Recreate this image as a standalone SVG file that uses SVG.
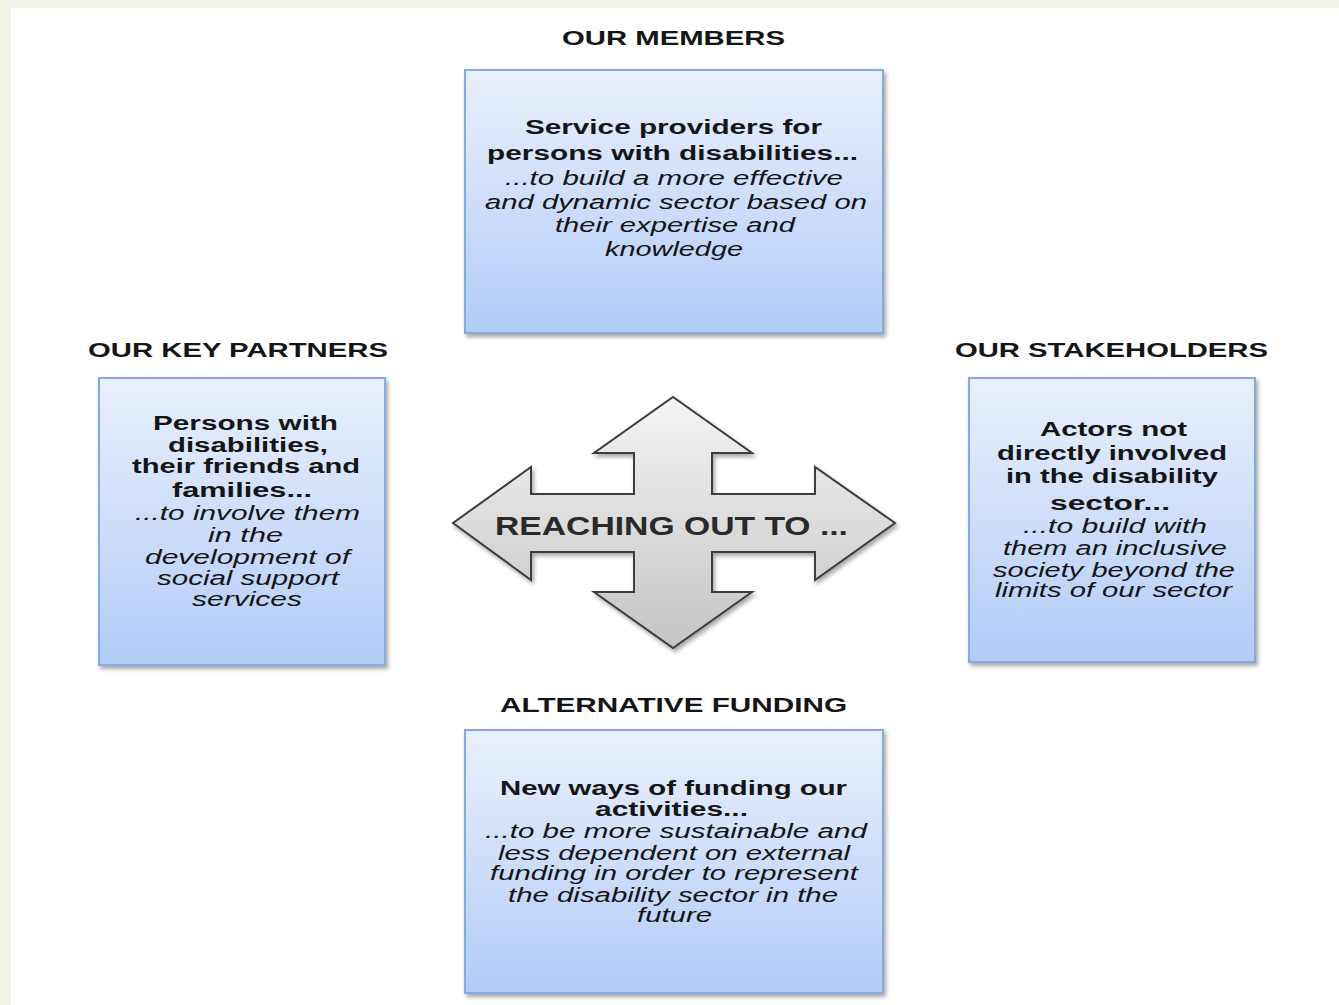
<svg xmlns="http://www.w3.org/2000/svg" width="1339" height="1005" viewBox="0 0 1339 1005">
  <defs>
    <linearGradient id="boxFill" x1="0" y1="0" x2="0" y2="1">
      <stop offset="0" stop-color="#e9f0fd"/>
      <stop offset="1" stop-color="#b2ccf7"/>
    </linearGradient>
    <linearGradient id="arrowFill" x1="0" y1="0" x2="0" y2="1">
      <stop offset="0" stop-color="#f4f4f4"/>
      <stop offset="1" stop-color="#c4c4c4"/>
    </linearGradient>
    <filter id="shadow" x="-10%" y="-10%" width="125%" height="125%">
      <feDropShadow dx="2" dy="3" stdDeviation="2" flood-color="#000" flood-opacity="0.35"/>
    </filter>
    <style>
      text { font-family: "Liberation Sans", Arial, sans-serif; fill: #151515; }
      .head { font-size: 21px; font-weight: bold; }
      .b { font-size: 20px; font-weight: bold; }
      .i { font-size: 20px; font-style: italic; }
      .box { fill: url(#boxFill); stroke: #86aadb; stroke-width: 2; filter: url(#shadow); }
      .hub { fill: url(#arrowFill); stroke: #3c3c3c; stroke-width: 2; stroke-linejoin: miter; filter: url(#shadow); }
      .hubtext { font-size: 25px; font-weight: bold; fill: #2a2a2a; }
    </style>
  </defs>

  <!-- page background with tinted margin -->
  <rect x="0" y="0" width="1339" height="1005" fill="#eef3e3"/>
  <rect x="11" y="8" width="1328" height="997" fill="#ffffff"/>

  <!-- central four-way arrow -->
  <g id="hub">
    <polygon class="hub" points="673,397 752,453 712,453 712,494 815,494 815,467 895,523 815,580 815,552 712,552 712,592 752,592 673,648 594,592 634,592 634,552 531,552 531,580 453,523 531,467 531,494 634,494 634,453 594,453"/>
    <text class="hubtext" x="495" y="535" textLength="353" lengthAdjust="spacingAndGlyphs">REACHING OUT TO ...</text>
  </g>

  <g id="connectors"></g>

  <!-- top: members -->
  <g id="members">
    <text class="head" x="562" y="45" textLength="223" lengthAdjust="spacingAndGlyphs">OUR MEMBERS</text>
    <rect class="box" x="465" y="70" width="418" height="263"/>
    <text class="b" x="525" y="134" textLength="297" lengthAdjust="spacingAndGlyphs">Service providers for</text>
    <text class="b" x="487" y="160" textLength="371" lengthAdjust="spacingAndGlyphs">persons with disabilities...</text>
    <text class="i" x="505" y="185" textLength="338" lengthAdjust="spacingAndGlyphs">...to build a more effective</text>
    <text class="i" x="485" y="209" textLength="382" lengthAdjust="spacingAndGlyphs">and dynamic sector based on</text>
    <text class="i" x="555" y="232" textLength="240" lengthAdjust="spacingAndGlyphs">their expertise and</text>
    <text class="i" x="605" y="256" textLength="138" lengthAdjust="spacingAndGlyphs">knowledge</text>
  </g>

  <!-- left: key partners -->
  <g id="partners">
    <text class="head" x="88" y="357" textLength="300" lengthAdjust="spacingAndGlyphs">OUR KEY PARTNERS</text>
    <rect class="box" x="99" y="378" width="286" height="287"/>
    <text class="b" x="153" y="430" textLength="185" lengthAdjust="spacingAndGlyphs">Persons with</text>
    <text class="b" x="168" y="452" textLength="160" lengthAdjust="spacingAndGlyphs">disabilities,</text>
    <text class="b" x="132" y="473" textLength="228" lengthAdjust="spacingAndGlyphs">their friends and</text>
    <text class="b" x="172" y="497" textLength="140" lengthAdjust="spacingAndGlyphs">families...</text>
    <text class="i" x="135" y="520" textLength="225" lengthAdjust="spacingAndGlyphs">...to involve them</text>
    <text class="i" x="208" y="542" textLength="75" lengthAdjust="spacingAndGlyphs">in the</text>
    <text class="i" x="145" y="564" textLength="205" lengthAdjust="spacingAndGlyphs">development of</text>
    <text class="i" x="157" y="585" textLength="182" lengthAdjust="spacingAndGlyphs">social support</text>
    <text class="i" x="192" y="606" textLength="110" lengthAdjust="spacingAndGlyphs">services</text>
  </g>

  <!-- right: stakeholders -->
  <g id="stakeholders">
    <text class="head" x="955" y="357" textLength="313" lengthAdjust="spacingAndGlyphs">OUR STAKEHOLDERS</text>
    <rect class="box" x="969" y="378" width="286" height="284"/>
    <text class="b" x="1040" y="436" textLength="147" lengthAdjust="spacingAndGlyphs">Actors not</text>
    <text class="b" x="997" y="460" textLength="230" lengthAdjust="spacingAndGlyphs">directly involved</text>
    <text class="b" x="1006" y="483" textLength="212" lengthAdjust="spacingAndGlyphs">in the disability</text>
    <text class="b" x="1050" y="510" textLength="120" lengthAdjust="spacingAndGlyphs">sector...</text>
    <text class="i" x="1023" y="533" textLength="184" lengthAdjust="spacingAndGlyphs">...to build with</text>
    <text class="i" x="1003" y="555" textLength="224" lengthAdjust="spacingAndGlyphs">them an inclusive</text>
    <text class="i" x="993" y="577" textLength="242" lengthAdjust="spacingAndGlyphs">society beyond the</text>
    <text class="i" x="995" y="597" textLength="237" lengthAdjust="spacingAndGlyphs">limits of our sector</text>
  </g>

  <!-- bottom: alternative funding -->
  <g id="funding">
    <text class="head" x="500" y="712" textLength="347" lengthAdjust="spacingAndGlyphs">ALTERNATIVE FUNDING</text>
    <rect class="box" x="465" y="730" width="418" height="263"/>
    <text class="b" x="500" y="795" textLength="347" lengthAdjust="spacingAndGlyphs">New ways of funding our</text>
    <text class="b" x="595" y="816" textLength="153" lengthAdjust="spacingAndGlyphs">activities...</text>
    <text class="i" x="485" y="838" textLength="382" lengthAdjust="spacingAndGlyphs">...to be more sustainable and</text>
    <text class="i" x="498" y="860" textLength="352" lengthAdjust="spacingAndGlyphs">less dependent on external</text>
    <text class="i" x="490" y="880" textLength="368" lengthAdjust="spacingAndGlyphs">funding in order to represent</text>
    <text class="i" x="508" y="902" textLength="330" lengthAdjust="spacingAndGlyphs">the disability sector in the</text>
    <text class="i" x="637" y="922" textLength="75" lengthAdjust="spacingAndGlyphs">future</text>
  </g>
</svg>
